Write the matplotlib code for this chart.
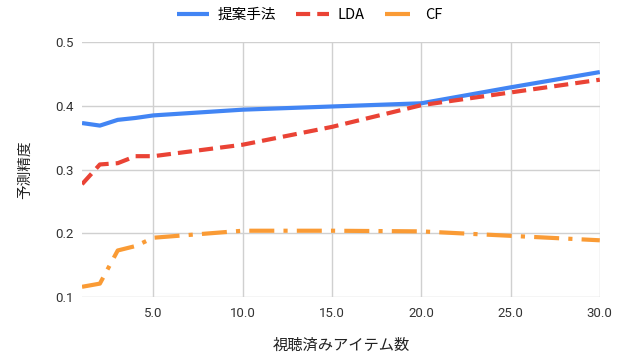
import matplotlib.pyplot as plt

# number of watched items
items = [1, 2, 3, 4, 5, 10, 15, 20, 25, 30]

# prediction accuracy for each method
proposed = [0.373, 0.369, 0.378, 0.381, 0.385, 0.394, 0.399, 0.404, 0.429, 0.453]
lda = [0.277, 0.308, 0.310, 0.321, 0.321, 0.339, 0.367, 0.401, 0.421, 0.441]
cf = [0.116, 0.121, 0.173, 0.180, 0.193, 0.204, 0.204, 0.203, 0.196, 0.189]

xticks = [5, 10, 15, 20, 25, 30]
yticks = [0.1, 0.2, 0.3, 0.4, 0.5]

jp = ['Noto Sans CJK JP', 'DejaVu Sans']
plt.rcParams['font.family'] = ['Roboto', 'Noto Sans CJK JP', 'DejaVu Sans']

fig = plt.figure(figsize=(6.19, 3.6), dpi=100)
ax = fig.add_axes([0.1325, 0.175, 0.8365, 0.708])

ax.plot(items, proposed, color='#4285F4', lw=3, label='提案手法', solid_capstyle='butt')
ax.plot(items, lda, color='#EA4335', lw=3, dashes=(3.4, 1.7), label='LDA')
ax.plot(items, cf, color='#FA9B35', lw=3, dashes=(6, 2.2, 1, 2.2), label='CF')

ax.set_xlim(1, 30)
ax.set_ylim(0.1, 0.5)
ax.set_xticks(xticks)
ax.set_xticklabels([f'{v:.1f}' for v in xticks])
ax.set_yticks(yticks)
ax.set_yticklabels([f'{v:.1f}' for v in yticks])
ax.grid(True, color='#d0d0d0', lw=1)
ax.set_axisbelow(True)
for s in ax.spines.values():
    s.set_visible(False)
ax.tick_params(length=0, labelsize=9.5, colors='#333333', pad=6)
ax.tick_params(axis='x', pad=7)

ax.set_xlabel('視聴済みアイテム数', family=jp, fontsize=11, color='#222222', labelpad=12)
ax.set_ylabel('予測精度', family=jp, fontsize=10.5, color='#222222', labelpad=17)

leg = ax.legend(loc='center', bbox_to_anchor=(0.44, 1.106), ncol=3, frameon=False,
                handlelength=2.2, columnspacing=1.4, handletextpad=0.6,
                prop={'family': jp, 'size': 10.5})

fig.savefig('out.png', dpi=100)
